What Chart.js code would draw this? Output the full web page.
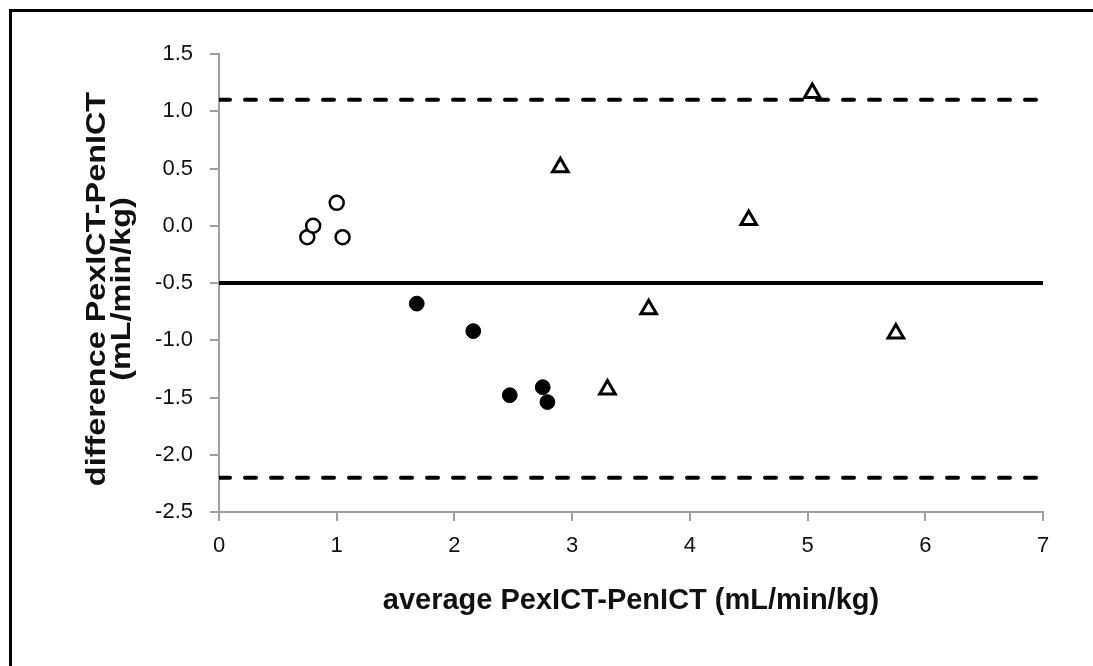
<!DOCTYPE html>
<html>
<head>
<meta charset="utf-8">
<script src="https://cdn.jsdelivr.net/npm/chart.js@4.4.1/dist/chart.umd.min.js"></script>
<style>
  html, body { margin: 0; padding: 0; background: #ffffff; }
  #wrap { width: 1093px; height: 666px; }
</style>
</head>
<body>
<div id="wrap"><canvas id="c" width="1093" height="666"></canvas></div>
<script>
// ---- data ----
const openX   = [0.75, 0.80, 1.00, 1.05];
const openY   = [-0.10, 0.00, 0.20, -0.10];
const filledX = [1.68, 2.16, 2.47, 2.75, 2.79];
const filledY = [-0.68, -0.92, -1.48, -1.41, -1.54];
const triX    = [2.90, 3.30, 3.65, 4.50, 5.04, 5.75];
const triY    = [0.51, -1.43, -0.73, 0.05, 1.16, -0.94];
const meanDiff = -0.5;
const upperLoA = 1.1;
const lowerLoA = -2.2;
const xRange = [0, 7];
const yRange = [-2.5, 1.5];
const xTitle = 'average PexICT-PenICT (mL/min/kg)';
const yTitle = ['difference PexICT-PenICT', '(mL/min/kg)'];

const pts = (xs, ys) => xs.map((x, i) => ({ x: x, y: ys[i] }));
const hline = (v) => [{ x: xRange[0], y: v }, { x: xRange[1], y: v }];

const FONT = "'Liberation Sans', Arial, sans-serif";
const AXIS = '#a0a0a0';

const framePlugin = {
  id: 'frame',
  afterDraw(chart) {
    const ctx = chart.ctx;
    ctx.save();
    ctx.strokeStyle = '#000';
    ctx.lineWidth = 3;
    ctx.beginPath();
    ctx.moveTo(10.5, chart.height);
    ctx.lineTo(10.5, 10.5);
    ctx.lineTo(chart.width, 10.5);
    ctx.stroke();
    // y-axis title (two lines, rotated, slightly stretched along its length like the reference)
    const ca = chart.chartArea;
    const cy = (ca.top + ca.bottom) / 2 + 6;
    const xs = [98, 123];
    ctx.fillStyle = '#111';
    ctx.font = "bold 27px " + FONT;
    ctx.textAlign = 'center';
    ctx.textBaseline = 'middle';
    yTitle.forEach((line, i) => {
      ctx.save();
      ctx.translate(xs[i], cy);
      ctx.rotate(-Math.PI / 2);
      ctx.scale(1.2, 1);
      ctx.fillText(line, 0, 0);
      ctx.restore();
    });
    ctx.restore();
  }
};

new Chart(document.getElementById('c'), {
  type: 'scatter',
  data: {
    datasets: [
      { label: 'open', data: pts(openX, openY), order: 0,
        pointStyle: 'circle', pointRadius: 7, pointBorderWidth: 2.5,
        pointBackgroundColor: '#fff', pointBorderColor: '#000' },
      { label: 'filled', data: pts(filledX, filledY), order: 0,
        pointStyle: 'circle', pointRadius: 7.4, pointBorderWidth: 1,
        pointBackgroundColor: '#000', pointBorderColor: '#000' },
      { label: 'tri', data: pts(triX, triY), order: 0,
        pointStyle: 'triangle', pointRadius: 9, pointBorderWidth: 3,
        pointBackgroundColor: '#fff', pointBorderColor: '#000' },
      { type: 'line', label: 'mean', data: hline(meanDiff), order: 1,
        borderColor: '#000', borderWidth: 4, pointRadius: 0, fill: false },
      { type: 'line', label: 'upper', data: hline(upperLoA), order: 1,
        borderColor: '#000', borderWidth: 4, borderDash: [11, 15], borderCapStyle: 'round',
        pointRadius: 0, fill: false },
      { type: 'line', label: 'lower', data: hline(lowerLoA), order: 1,
        borderColor: '#000', borderWidth: 4, borderDash: [11, 15], borderCapStyle: 'round',
        pointRadius: 0, fill: false }
    ]
  },
  options: {
    responsive: false,
    animation: false,
    layout: { padding: { left: 10, right: 50, top: 54, bottom: 0 } },
    plugins: { legend: { display: false }, tooltip: { enabled: false } },
    scales: {
      x: {
        type: 'linear', min: xRange[0], max: xRange[1],
        ticks: { stepSize: 1, color: '#111', font: { family: FONT, size: 22 }, padding: 12 },
        grid: { display: true, drawOnChartArea: false, drawTicks: true, tickLength: 9, color: AXIS, lineWidth: 2 },
        border: { display: true, color: AXIS, width: 2 },
        title: { display: true, text: xTitle, color: '#111',
                 font: { family: FONT, size: 29, weight: 'bold' }, padding: { top: 0, bottom: 48 } },
        afterFit(scale) { scale.height = 154; }
      },
      y: {
        type: 'linear', min: yRange[0], max: yRange[1],
        ticks: { stepSize: 0.5, color: '#111', font: { family: FONT, size: 22 }, padding: 17,
                 callback: (v) => Number(v).toFixed(1) },
        grid: { display: true, drawOnChartArea: false, drawTicks: true, tickLength: 9, color: AXIS, lineWidth: 2 },
        border: { display: true, color: AXIS, width: 2 },
        title: { display: false },
        afterFit(scale) { scale.width = 209; }
      }
    }
  },
  plugins: [framePlugin]
});
</script>
</body>
</html>
